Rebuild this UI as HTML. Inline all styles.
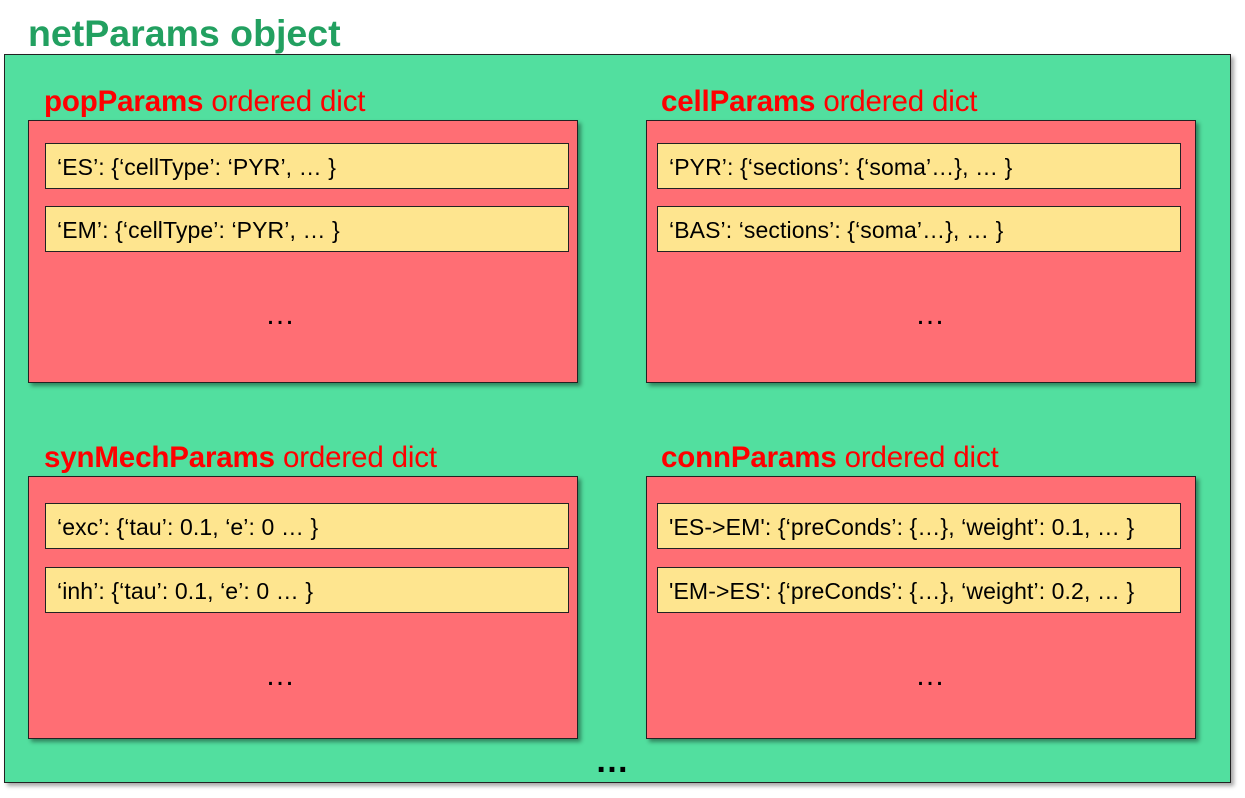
<!DOCTYPE html>
<html><head><style>
body{margin:0;width:1245px;height:798px;background:#fff;position:relative;font-family:"Liberation Sans",sans-serif;overflow:hidden}
.a{position:absolute;white-space:nowrap}
.title{left:28px;top:12px;font-size:37.5px;font-weight:bold;color:#22a060;line-height:42px}
.green{left:4px;top:54px;width:1225px;height:727px;background:#52df9f;border:1.5px solid #222;box-shadow:3px 3px 4px rgba(0,0,0,0.35)}
.lab{font-size:29.5px;color:#f00;line-height:32px;letter-spacing:-0.15px}
.lab b{font-weight:bold}
.red{width:548px;height:261px;background:#ff6e74;border:1.5px solid #222;box-shadow:3px 3px 4px rgba(0,0,0,0.4)}
.y{background:#fee58f;border:1.5px solid #222;font-size:23px;line-height:46px;box-sizing:border-box;padding-left:11px;width:524px;height:46px;color:#000;letter-spacing:0.1px}
.dots{font-size:30px;color:#000}
</style></head><body>
<div class="a title">netParams object</div>
<div class="a green"></div>

<div class="a lab" style="left:44px;top:86px"><b>popParams</b> ordered dict</div>
<div class="a red" style="left:28px;top:120px"></div>
<div class="a y" style="left:45px;top:143px">‘ES’: {‘cellType’: ‘PYR’, … }</div>
<div class="a y" style="left:45px;top:206px">‘EM’: {‘cellType’: ‘PYR’, … }</div>
<div class="a dots" style="left:265px;top:298px">…</div>

<div class="a lab" style="left:661px;top:86px"><b>cellParams</b> ordered dict</div>
<div class="a red" style="left:646px;top:120px"></div>
<div class="a y" style="left:657px;top:143px">‘PYR’: {‘sections’: {‘soma’…}, … }</div>
<div class="a y" style="left:657px;top:206px">‘BAS’: ‘sections’: {‘soma’…}, … }</div>
<div class="a dots" style="left:915px;top:298px">…</div>

<div class="a lab" style="left:44px;top:442px"><b>synMechParams</b> ordered dict</div>
<div class="a red" style="left:28px;top:476px"></div>
<div class="a y" style="left:45px;top:503px">‘exc’: {‘tau’: 0.1, ‘e’: 0 … }</div>
<div class="a y" style="left:45px;top:567px">‘inh’: {‘tau’: 0.1, ‘e’: 0 … }</div>
<div class="a dots" style="left:265px;top:659px">…</div>

<div class="a lab" style="left:661px;top:442px"><b>connParams</b> ordered dict</div>
<div class="a red" style="left:646px;top:476px"></div>
<div class="a y" style="left:657px;top:503px">'ES-&gt;EM': {‘preConds’: {…}, ‘weight’: 0.1, … }</div>
<div class="a y" style="left:657px;top:567px">'EM-&gt;ES': {‘preConds’: {…}, ‘weight’: 0.2, … }</div>
<div class="a dots" style="left:915px;top:659px">…</div>

<div class="a" style="left:595px;top:742px;font-size:34px;font-weight:bold">…</div>
</body></html>
